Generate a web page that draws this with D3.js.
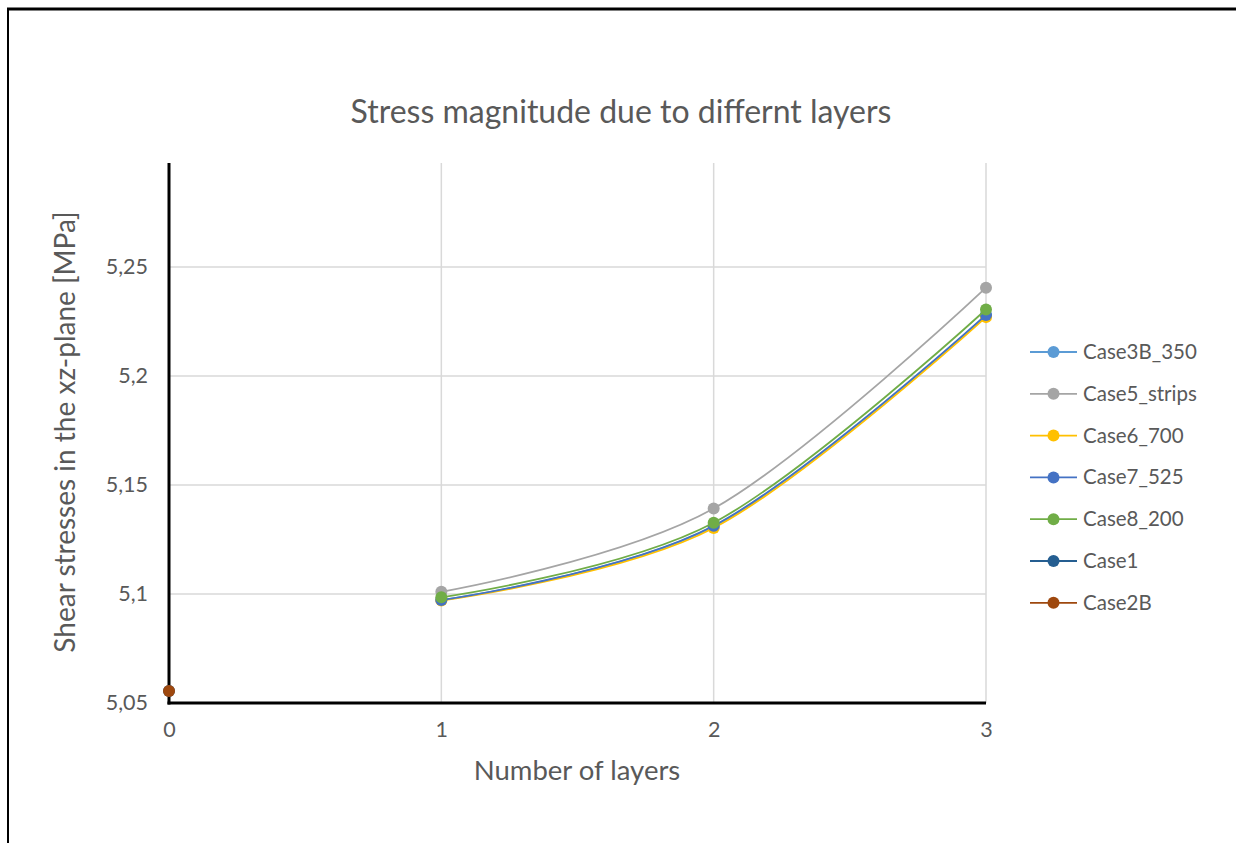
<!DOCTYPE html>
<html>
<head>
<meta charset="utf-8">
<script src="https://cdn.jsdelivr.net/npm/d3@7/dist/d3.min.js"></script>
<style>
  html, body { margin: 0; padding: 0; background: #fff; }
  svg { display: block; }
  text { font-family: Lato, "Open Sans", sans-serif; fill: #595959; }
</style>
</head>
<body>
<svg id="chart" width="1236" height="843"></svg>
<script>
// Layer counts on the x axis
const layers = [0, 1, 2, 3];

// Series names, colours and values (MPa); null = no value at that layer
const seriesNames = ["Case3B_350", "Case5_strips", "Case6_700", "Case7_525", "Case8_200", "Case1", "Case2B"];
const seriesColors = ["#5B9BD5", "#A5A5A5", "#FFC000", "#4472C4", "#70AD47", "#255E91", "#9E480E"];
const case3B_350  = [null, 5.0972, 5.1310, 5.2278];
const case5Strips = [null, 5.1010, 5.1392, 5.2405];
const case6_700   = [null, 5.0970, 5.1303, 5.2270];
const case7_525   = [null, 5.0972, 5.1313, 5.2280];
const case8_200   = [null, 5.0985, 5.1327, 5.2305];
const case1       = [5.0555, null, null, null];
const case2B      = [5.0555, null, null, null];
const seriesValues = [case3B_350, case5Strips, case6_700, case7_525, case8_200, case1, case2B];

// Axis ticks
const yTicks = [5.05, 5.1, 5.15, 5.2, 5.25];
const xTicks = [0, 1, 2, 3];

const svg = d3.select("#chart");

// Outer frame
svg.append("line").attr("x1", 7).attr("x2", 1236).attr("y1", 9).attr("y2", 9)
  .attr("stroke", "#000").attr("stroke-width", 3);
svg.append("line").attr("x1", 8).attr("x2", 8).attr("y1", 8).attr("y2", 843)
  .attr("stroke", "#000").attr("stroke-width", 2);

const plot = { left: 169, right: 986, top: 163, bottom: 703 };

const x = d3.scaleLinear().domain([0, 3]).range([plot.left, plot.right]);
const y = d3.scaleLinear().domain([5.05, 5.2977]).range([plot.bottom, plot.top]);

const fmt = v => String(+v.toFixed(2)).replace(".", ",");

// Grid lines
const grid = svg.append("g");
grid.selectAll("line.h").data(yTicks.slice(1)).join("line")
  .attr("x1", plot.left).attr("x2", plot.right)
  .attr("y1", d => y(d)).attr("y2", d => y(d))
  .attr("stroke", "#d9d9d9").attr("stroke-width", 1.5);
grid.selectAll("line.v").data(xTicks.slice(1)).join("line")
  .attr("x1", d => x(d)).attr("x2", d => x(d))
  .attr("y1", plot.top).attr("y2", plot.bottom)
  .attr("stroke", "#d9d9d9").attr("stroke-width", 1.5);

// Axes
const yAxis = svg.append("g").attr("transform", `translate(${plot.left},0)`)
  .call(d3.axisLeft(y).tickValues(yTicks).tickFormat(fmt).tickSize(0).tickPadding(21));
const xAxis = svg.append("g").attr("transform", `translate(0,${plot.bottom})`)
  .call(d3.axisBottom(x).tickValues(xTicks).tickFormat(d => d).tickSize(0).tickPadding(19));
[yAxis, xAxis].forEach(a => {
  a.select(".domain").remove();
  a.selectAll("text").attr("font-size", 21.5).attr("fill", "#595959")
    .attr("font-family", "Lato, sans-serif");
});
svg.append("line").attr("x1", plot.left).attr("x2", plot.left)
  .attr("y1", plot.top).attr("y2", plot.bottom + 1.5)
  .attr("stroke", "#000").attr("stroke-width", 3);
svg.append("line").attr("x1", plot.left - 1.5).attr("x2", plot.right)
  .attr("y1", plot.bottom).attr("y2", plot.bottom)
  .attr("stroke", "#000").attr("stroke-width", 3);

// Series lines and markers
const line = d3.line()
  .defined(d => d.v != null)
  .x(d => x(d.l)).y(d => y(d.v))
  .curve(d3.curveCatmullRom.alpha(0));

seriesNames.forEach((name, i) => {
  const pts = layers.map((l, j) => ({ l, v: seriesValues[i][j] }));
  const g = svg.append("g");
  g.append("path").datum(pts).attr("d", line)
    .attr("fill", "none").attr("stroke", seriesColors[i]).attr("stroke-width", 1.8);
  g.selectAll("circle").data(pts.filter(d => d.v != null)).join("circle")
    .attr("cx", d => x(d.l)).attr("cy", d => y(d.v)).attr("r", 6)
    .attr("fill", seriesColors[i]);
});

// Title
svg.append("text").attr("x", 621).attr("y", 123).attr("text-anchor", "middle")
  .attr("font-size", 32).text("Stress magnitude due to differnt layers");

// Axis titles
svg.append("text").attr("transform", "translate(75,432) rotate(-90)")
  .attr("text-anchor", "middle").attr("font-size", 28)
  .text("Shear stresses in the xz-plane [MPa]");
svg.append("text").attr("x", 577).attr("y", 780).attr("text-anchor", "middle")
  .attr("font-size", 27.5).text("Number of layers");

// Legend
const legend = svg.append("g");
seriesNames.forEach((name, i) => {
  const cy = 352 + i * 41.8;
  legend.append("line").attr("x1", 1030).attr("x2", 1077).attr("y1", cy).attr("y2", cy)
    .attr("stroke", seriesColors[i]).attr("stroke-width", 1.8);
  legend.append("circle").attr("cx", 1053.5).attr("cy", cy).attr("r", 6)
    .attr("fill", seriesColors[i]);
  legend.append("text").attr("x", 1083).attr("y", cy + 7).attr("font-size", 20.5)
    .text(name);
});
</script>
</body>
</html>
